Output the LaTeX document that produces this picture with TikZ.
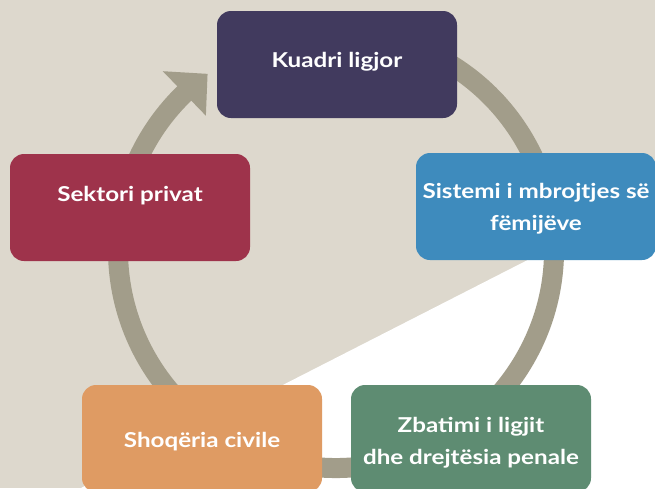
\documentclass[tikz,border=0pt]{standalone}
\usepackage{fontspec}
\setmainfont{Lato}
\usetikzlibrary{calc}
\definecolor{bgbeige}{HTML}{DDD8CD}
\definecolor{ringc}{HTML}{A29D8A}
\definecolor{cpurple}{HTML}{413A5E}
\definecolor{cblue}{HTML}{3E8BBD}
\definecolor{cred}{HTML}{9E334B}
\definecolor{corange}{HTML}{DF9B63}
\definecolor{cgreen}{HTML}{5E8C72}
\tikzset{
  boxst/.style={rounded corners=14pt, minimum width=240pt, minimum height=107pt, inner sep=0pt, draw=none},
  lbl/.style={text=white, font=\bfseries\fontsize{20.5}{32}\selectfont, align=center, inner sep=0pt, xscale=1.18, transform shape},
  ring/.style={draw=ringc, line width=20pt}
}
\begin{document}
\begin{tikzpicture}[x=1pt,y=-1pt]
\useasboundingbox (0,0) rectangle (655,488);
\fill[bgbeige] (0,0) rectangle (655,488);
\fill[white] (655,195) -- (655,488) -- (81,488) -- cycle;
\coordinate (c) at (336,250);
% ring
\draw[ring] ($(c)+(-60:218)$) arc[start angle=-60, end angle=226.5, radius=218];
\fill[ringc] ($(c)+(233.9:218)$) -- ($(c)+(225.9:249)$) -- ($(c)+(225.9:187)$) -- cycle;
% boxes
\begin{scope}
\clip (0,0) rectangle (655,488);
\node[boxst, fill=cpurple] (kuadri) at (337,64.5) {};
\node[boxst, fill=cblue] (sistemi) at (536,206.5) {};
\node[boxst, fill=cred] (sektori) at (130,207.5) {};
\node[boxst, fill=corange] (shoqeria) at (202,438.5) {};
\node[boxst, fill=cgreen] (zbatimi) at (471,438.5) {};
\end{scope}
% labels
\node[lbl] (tkuadri) at (337,61.5) {Kuadri ligjor};
\node[lbl] (tsistemi) at (536,208.5) {Sistemi i mbrojtjes së\\fëmijëve};
\node[lbl] (tsektori) at (130,195.5) {Sektori privat};
\node[lbl] (tshoqeria) at (202,442) {Shoqëria civile};
\node[lbl] (tzbatimi) at (471,442.5) {Zbatimi i ligjit\\dhe drejtësia penale};
\end{tikzpicture}
\end{document}
